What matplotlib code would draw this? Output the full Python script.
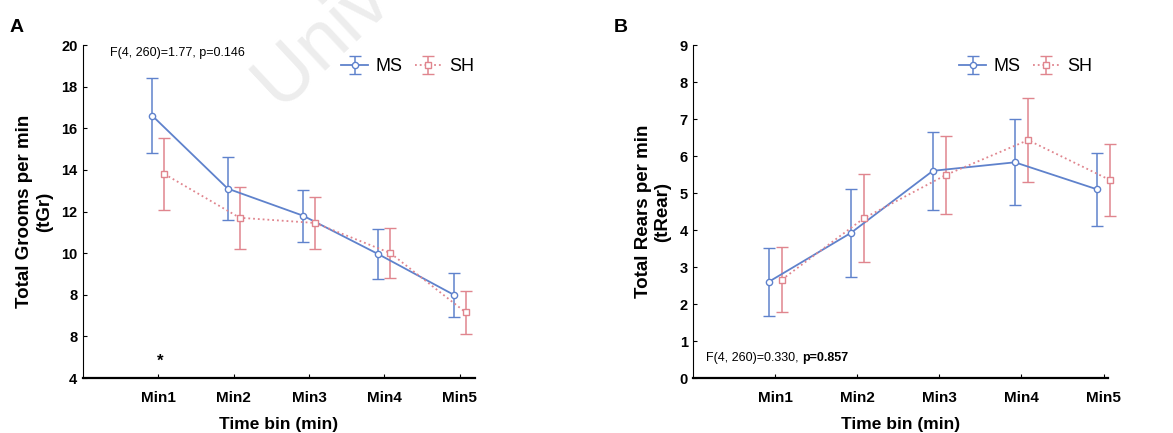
import numpy as np
import matplotlib.pyplot as plt

plt.rcParams['font.family'] = ['Liberation Sans', 'DejaVu Sans']

bins = ['Min1', 'Min2', 'Min3', 'Min4', 'Min5']

# panel A: total grooms per min
grooms_ms = [16.6, 13.1, 11.8, 9.95, 8.0]
grooms_ms_err = [1.8, 1.5, 1.25, 1.2, 1.05]
grooms_sh = [13.8, 11.7, 11.45, 10.0, 7.15]
grooms_sh_err = [1.75, 1.5, 1.25, 1.2, 1.05]
grooms_ticks = [4, 6, 8, 10, 12, 14, 16, 18, 20]
grooms_ticklabels = ['4', '8', '8', '10', '12', '14', '16', '18', '20']

# panel B: total rears per min
rears_ms = [2.6, 3.92, 5.6, 5.83, 5.1]
rears_ms_err = [0.92, 1.2, 1.06, 1.16, 0.98]
rears_sh = [2.66, 4.32, 5.49, 6.43, 5.35]
rears_sh_err = [0.88, 1.19, 1.05, 1.14, 0.98]
rears_ticks = list(range(10))

MS_COL = '#5f82cc'
SH_COL = '#e0858e'


def draw_panel(ax, ms, ms_err, sh, sh_err, xmax, leg_anchor):
    x = np.arange(1, len(bins) + 1)
    ax.set_facecolor('none')
    for xs, ys, es, col, ls, mk, lab in [
            (x - 0.08, ms, ms_err, MS_COL, '-', 'o', 'MS'),
            (x + 0.08, sh, sh_err, SH_COL, ':', 's', 'SH')]:
        cont = ax.errorbar(xs, ys, yerr=es, color=col, lw=1.3, ls=ls,
                           marker=mk, ms=4.5, mfc='white', mec=col, mew=1.0,
                           capsize=4, elinewidth=1.1, capthick=1.1, label=lab)
        arts = [cont.lines[0]] + list(cont.lines[1]) + list(cont.lines[2])
        for art in arts:
            art.set_clip_on(False)
    ax.set_xlim(0, xmax)
    ax.set_xticks(x)
    ax.set_xticklabels(bins, fontweight='bold', fontsize=11)
    ax.set_xlabel('Time bin (min)', fontweight='bold', fontsize=12.5, labelpad=9)
    ax.spines['top'].set_visible(False)
    ax.spines['right'].set_visible(False)
    ax.spines['left'].set_linewidth(0.8)
    ax.spines['bottom'].set_linewidth(1.6)
    ax.tick_params(axis='x', direction='in', length=3, pad=9)
    ax.tick_params(axis='y', direction='in', length=3, width=0.8, pad=4)
    for lab in ax.get_yticklabels():
        lab.set_fontweight('bold')
        lab.set_fontsize(10.5)
    ax.legend(loc='upper right', ncol=2, frameon=False, fontsize=13,
              handlelength=1.5, columnspacing=0.7, handletextpad=0.4,
              bbox_to_anchor=leg_anchor)


fig = plt.figure(figsize=(11.73, 4.33), dpi=100)

# faint scan watermark
fig.text(0.238, 0.75, 'Univ', fontsize=56, color='#ededed', rotation=43,
         rotation_mode='anchor', ha='left', va='baseline', zorder=-10)

axA = fig.add_axes([0.0708, 0.127, 0.334, 0.769])
axA.set_ylim(4, 20)
axA.set_yticks(grooms_ticks)
axA.set_yticklabels(grooms_ticklabels)
draw_panel(axA, grooms_ms, grooms_ms_err, grooms_sh, grooms_sh_err, 5.2,
           (1.04, 1.01))
axA.set_ylabel('Total Grooms per min\n(tGr)', fontweight='bold', fontsize=13.5,
               labelpad=6)
axA.text(0.07, 0.995, 'F(4, 260)=1.77, p=0.146', transform=axA.transAxes,
         fontsize=9, va='top')
axA.text(1.03, 4.8, '*', ha='center', va='center', fontsize=12, fontweight='bold')

axB = fig.add_axes([0.591, 0.127, 0.354, 0.769])
axB.set_ylim(0, 9)
axB.set_yticks(rears_ticks)
axB.set_yticklabels([str(t) for t in rears_ticks])
draw_panel(axB, rears_ms, rears_ms_err, rears_sh, rears_sh_err, 5.06,
           (1.0, 1.01))
axB.set_ylabel('Total Rears per min\n(tRear)', fontweight='bold', fontsize=13.5,
               labelpad=6)
ftxt = axB.text(0.03, 0.05, 'F(4, 260)=0.330, ', transform=axB.transAxes,
                fontsize=9, va='baseline')
axB.annotate('p=0.857', xy=(1, 0), xycoords=ftxt, va='bottom',
             fontsize=9, fontweight='bold')

fig.text(0.008, 0.925, 'A', fontsize=14, fontweight='bold')
fig.text(0.523, 0.925, 'B', fontsize=14, fontweight='bold')

fig.savefig('out.png', dpi=100)
